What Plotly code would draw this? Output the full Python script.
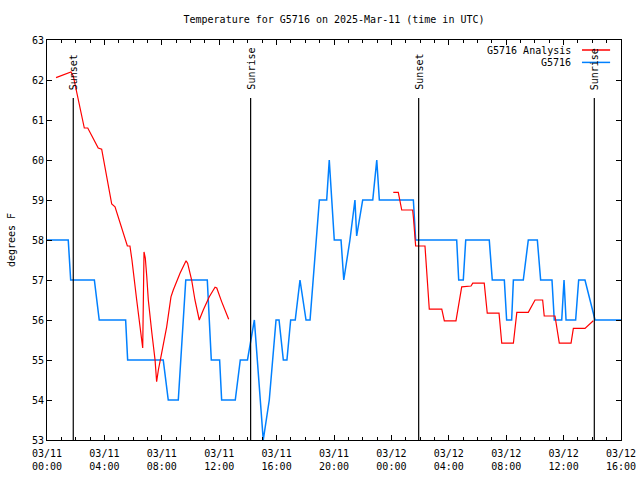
import pandas as pd
import plotly.graph_objects as go

BASE = pd.Timestamp("2025-03-11 00:00")

# Observations (G5716): hours since 03/11 00:00 UTC, temperature in F
obs_hours = [0.0, 1.48, 1.65, 3.30, 3.64, 5.48, 5.62, 8.10, 8.45, 9.15, 9.67, 11.17, 11.45,
             12.03, 12.17, 13.12, 13.47, 13.97, 14.45, 15.07, 15.49, 15.96, 16.17, 16.47,
             16.72, 16.98, 17.30, 17.63, 18.05, 18.33, 18.98, 19.49, 19.67, 20.02, 20.49,
             20.68, 21.11, 21.46, 21.58, 22.00, 22.70, 22.98, 23.16, 25.53, 25.69, 28.55,
             28.69, 29.01, 29.18, 30.82, 31.03, 31.87, 32.03, 32.38, 32.50, 33.19, 33.54,
             34.17, 34.40, 35.19, 35.35, 35.87, 36.03, 36.17, 36.84, 37.05, 37.49, 38.19, 40.0]
obs_temp = [58, 58, 57, 57, 56, 56, 55, 55, 54, 54, 57, 57, 55,
            55, 54, 54, 55, 55, 56, 53, 54, 56, 56, 55,
            55, 56, 56, 57, 56, 56, 59, 59, 60, 58, 58,
            57, 58, 59, 58.1, 59, 59, 60, 59, 59, 58, 58,
            57, 57, 58, 58, 57, 57, 56, 56, 57, 57, 58,
            58, 57, 57, 56, 56, 57, 56, 56, 57, 57, 56, 56]

# Analysis (G5716 Analysis): two segments with a gap
ana1_hours = [0.63, 1.67, 1.83, 2.14, 2.49, 2.60, 2.84, 3.11, 3.57, 3.81, 3.99, 4.27, 4.51,
              4.74, 5.09, 5.60, 5.78, 5.92, 6.25, 6.48, 6.67, 6.76, 6.85, 6.95, 7.06, 7.30,
              7.53, 7.64, 7.76, 7.99, 8.34, 8.64, 8.80, 9.27, 9.69, 9.80, 10.08, 10.31, 10.61,
              10.89, 11.31, 11.71, 11.83, 12.17, 12.66]
ana1_temp = [62.06, 62.2, 62.1, 61.54, 61.0, 60.8, 60.8, 60.6, 60.3, 60.27, 59.9, 59.33, 58.9,
             58.83, 58.42, 57.85, 57.85, 57.5, 56.5, 55.83, 55.3, 57.7, 57.55, 57.1, 56.5, 55.7,
             55.0, 54.46, 54.75, 55.17, 55.83, 56.58, 56.75, 57.17, 57.48, 57.42, 57.0, 56.5, 56.0,
             56.25, 56.58, 56.82, 56.8, 56.46, 56.02]
ana2_hours = [24.13, 24.48, 24.72, 25.48, 25.54, 25.69, 26.34, 26.64, 27.51, 27.69, 28.50,
              28.90, 29.55, 29.67, 30.47, 30.68, 31.50, 31.69, 32.50, 32.74, 33.54, 34.01,
              34.54, 34.65, 35.40, 35.70, 36.52, 36.68, 37.49, 38.07]
ana2_temp = [59.19, 59.19, 58.75, 58.75, 58.54, 57.85, 57.85, 56.27, 56.27, 55.98, 55.98,
             56.83, 56.85, 56.92, 56.92, 56.17, 56.17, 55.42, 55.42, 56.19, 56.19, 56.5,
             56.5, 56.1, 56.1, 55.42, 55.42, 55.79, 55.79, 55.98]

# Sun events
sun_hours = [1.83, 14.19, 25.90, 38.14]
sun_labels = ["Sunset", "Sunrise", "Sunset", "Sunrise"]

y_ticks = list(range(53, 64))

FONT = "DejaVu Sans Mono"

FIG_W, FIG_H = 640, 480


def to_time(hours):
    return [BASE + pd.Timedelta(hours=h) if h is not None else None for h in hours]


ana_x = to_time(ana1_hours) + [None] + to_time(ana2_hours)
ana_y = ana1_temp + [None] + ana2_temp

fig = go.Figure()
fig.add_trace(go.Scatter(x=to_time(obs_hours), y=obs_temp, mode="lines",
                         line=dict(color="#0080ff", width=1.5), name="G5716"))
fig.add_trace(go.Scatter(x=ana_x, y=ana_y, mode="lines", connectgaps=False,
                         line=dict(color="#ff0000", width=1.2), name="G5716 Analysis"))

for h, lab in zip(sun_hours, sun_labels):
    t = BASE + pd.Timedelta(hours=h)
    fig.add_shape(type="line", xref="x", yref="y", x0=t, x1=t, y0=53, y1=61.55,
                  line=dict(color="black", width=1.2))
    fig.add_annotation(x=t, y=61.7, xref="x", yref="y", text=lab, textangle=-90,
                       showarrow=False, xanchor="center", yanchor="bottom",
                       font=dict(family=FONT, size=10, color="black"))

# Manual legend (text right-aligned, sample line to the right)
legend_items = [("G5716 Analysis", "#ff0000", 0.975), ("G5716", "#0080ff", 0.944)]
for name, col, yp in legend_items:
    fig.add_annotation(x=0.9164, y=yp, xref="paper", yref="paper", text=name,
                       showarrow=False, xanchor="right", yanchor="middle",
                       font=dict(family=FONT, size=10, color="black"))
    fig.add_shape(type="line", xref="paper", yref="paper", x0=0.932, x1=0.981,
                  y0=yp, y1=yp, line=dict(color=col, width=1.5))

fig.update_layout(
    width=FIG_W, height=FIG_H,
    margin=dict(l=47, r=19, t=40, b=40, autoexpand=False),
    paper_bgcolor="white", plot_bgcolor="white",
    showlegend=False,
    font=dict(family=FONT, size=10, color="black"),
    title=dict(text="Temperature for G5716 on 2025-Mar-11 (time in UTC)",
               x=0.5, xref="paper", xanchor="center",
               y=1 - 19 / FIG_H, yref="container", yanchor="middle",
               font=dict(family=FONT, size=10, color="black")),
)
fig.update_xaxes(
    type="date", automargin=False,
    range=[BASE, BASE + pd.Timedelta(hours=40)],
    tick0=BASE, dtick=4 * 3600 * 1000, tickformat="%m/%d<br>%H:%M",
    ticks="inside", ticklen=5, tickcolor="black", tickwidth=1,
    minor=dict(dtick=3600 * 1000, ticks="inside", ticklen=3, tickcolor="black"),
    showline=True, linecolor="black", linewidth=1, mirror="allticks",
    showgrid=False, zeroline=False, ticklabelstandoff=4, ticklabeloverflow="allow",
    tickfont=dict(family=FONT, size=10, color="black"),
)
fig.update_yaxes(
    automargin=False,
    range=[53, 63], tickvals=y_ticks,
    ticks="inside", ticklen=5, tickcolor="black", tickwidth=1,
    showline=True, linecolor="black", linewidth=1, mirror="allticks",
    showgrid=False, zeroline=False,
    title=dict(text="degrees F", font=dict(family=FONT, size=10, color="black"), standoff=14),
    tickfont=dict(family=FONT, size=10, color="black"),
)

# Remove the default page margin so the 640x480 figure fills the window exactly.
fig.write_html("out.html",
               config={"displayModeBar": False},
               post_script="document.body.style.margin='0';document.body.style.overflow='hidden';")
